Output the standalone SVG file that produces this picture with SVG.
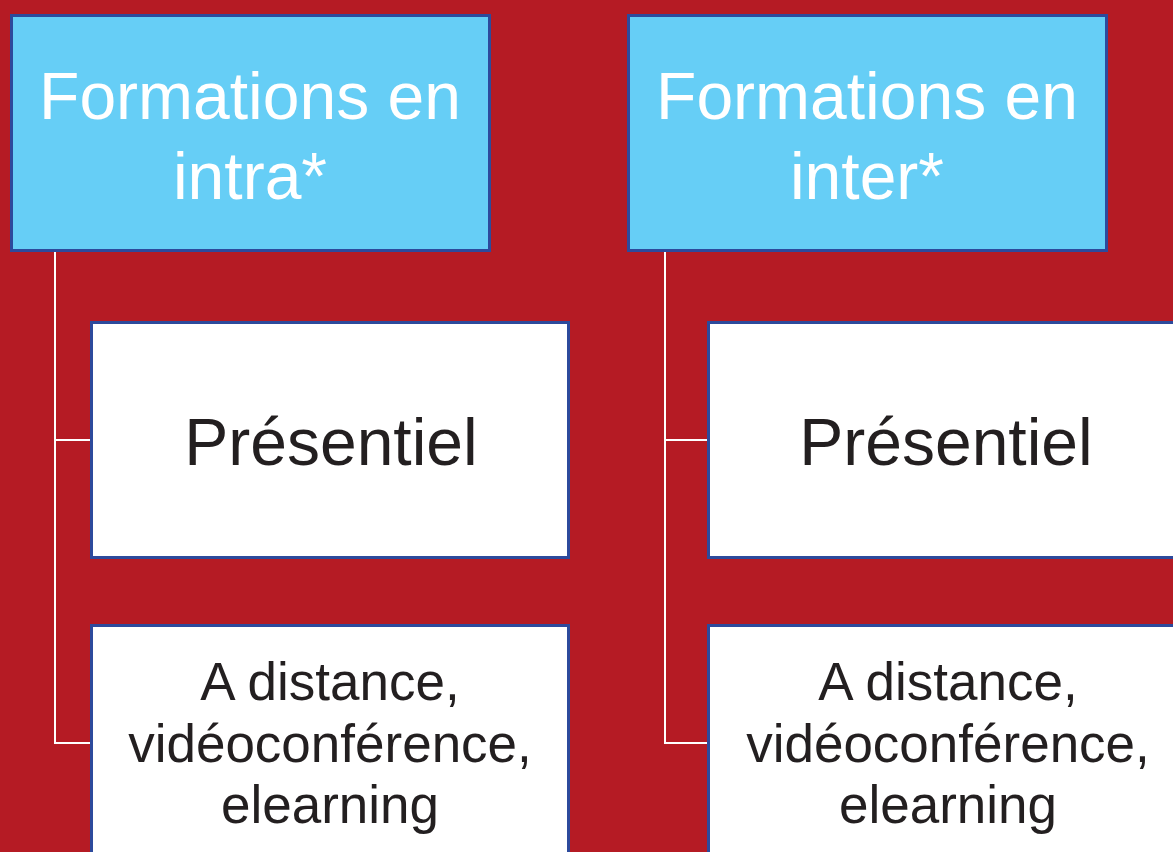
<svg xmlns="http://www.w3.org/2000/svg" width="1173" height="852" viewBox="0 0 1173 852">
<style>
.bg{fill:#B51B24}
.top{fill:#66CEF6;stroke:#2D4A9C;stroke-width:3}
.child{fill:#FFFFFF;stroke:#2D4A9C;stroke-width:3}
.conn{fill:none;stroke:#FFFFFF;stroke-width:2}
.tt{font-family:"Liberation Sans",Arial,sans-serif;font-size:66px;fill:#FFFFFF;text-anchor:middle}
.t1{font-family:"Liberation Sans",Arial,sans-serif;font-size:66px;fill:#231F20;text-anchor:middle}
.t2{font-family:"Liberation Sans",Arial,sans-serif;font-size:53px;fill:#231F20;text-anchor:middle}
</style>
<rect class="bg" x="0" y="0" width="1173" height="852"/>
<g id="connectors">
<path class="conn" d="M55,251 V743 H91 M55,440 H91"/>
<path class="conn" d="M665,251 V743 H708 M665,440 H708"/>
</g>
<g id="intra">
<rect class="top" x="11.5" y="15.5" width="478" height="235"/>
<text class="tt" x="250" y="119">Formations en</text>
<text class="tt" x="250" y="199">intra*</text>
</g>
<g id="inter">
<rect class="top" x="628.5" y="15.5" width="478" height="235"/>
<text class="tt" x="867" y="119">Formations en</text>
<text class="tt" x="867" y="199">inter*</text>
</g>
<g id="intra-presentiel">
<rect class="child" x="91.5" y="322.5" width="477" height="235"/>
<text class="t1" x="331" y="465">Présentiel</text>
</g>
<g id="intra-distance">
<rect class="child" x="91.5" y="625.5" width="477" height="240"/>
<text class="t2" x="330" y="700">A distance,</text>
<text class="t2" x="330" y="762">vidéoconférence,</text>
<text class="t2" x="330" y="823">elearning</text>
</g>
<g id="inter-presentiel">
<rect class="child" x="708.5" y="322.5" width="477" height="235"/>
<text class="t1" x="946" y="465">Présentiel</text>
</g>
<g id="inter-distance">
<rect class="child" x="708.5" y="625.5" width="477" height="240"/>
<text class="t2" x="948" y="700">A distance,</text>
<text class="t2" x="948" y="762">vidéoconférence,</text>
<text class="t2" x="948" y="823">elearning</text>
</g>
</svg>
